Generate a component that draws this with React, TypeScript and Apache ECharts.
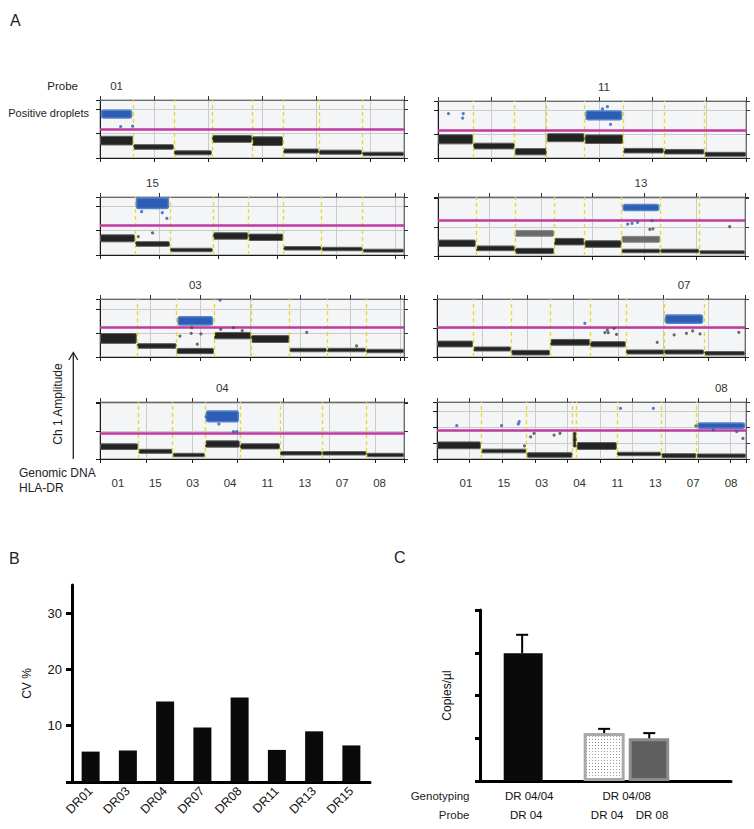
import React, { useEffect, useRef } from 'react';
import * as echarts from 'echarts';

// ---------- Panel A data (x and y in % of each plot's range) ----------
const probeNames = ['01', '11', '15', '13', '03', '07', '04', '08'];
const hlaLabels = ['01', '15', '03', '04', '11', '13', '07', '08'];
const wellEdges = [
  [0, 10.9, 24.3, 36.8, 50, 60.2, 72, 86.2, 100],
  [0, 11.4, 24.9, 35.3, 47.6, 60.1, 73.3, 86.5, 100],
  [0, 11.5, 23, 37.1, 48.8, 60.3, 72.9, 86.4, 100],
  [0, 12.3, 25, 37.8, 47.7, 59.8, 72.4, 85.1, 100],
  [0, 12.1, 25.2, 37.5, 49.6, 62.3, 74.6, 87.5, 100],
  [0, 11.7, 24.1, 36.7, 49.7, 61.3, 73.7, 86.7, 100],
  [0, 12.6, 23.9, 34.5, 46, 59.2, 73.1, 87.7, 100],
  [0, 14.2, 29.0, 43.9, 45.2, 58.2, 72.5, 84.0, 100],
];
const negativeLevels = [
  [30, 19, 9, 33, 29, 12, 10, 7],
  [32.8, 21, 11, 35.6, 33, 12.8, 11, 6.5],
  [28.7, 19, 8.6, 32.8, 30.5, 11.5, 10.3, 7.5],
  [21.5, 13, 8.5, 24.3, 20.3, 8.5, 8.5, 6.3],
  [32, 19, 10.3, 36.8, 31, 12, 12, 10.3],
  [22.4, 13.8, 7.5, 25.3, 22, 8.6, 8.6, 6.3],
  [21.6, 13.5, 7, 26.3, 22.2, 10, 10, 7],
  [24, 14, 7, 34, 22.8, 8.8, 5.8, 5.8],
];
const negativeSpreads = [
  [15, 8, 7, 12, 15, 7, 7, 6],
  [16, 10, 11, 14, 15, 8, 8, 7],
  [12, 8, 6, 11, 11, 6, 6, 5],
  [11, 8, 9, 11, 11, 6, 6, 5],
  [17, 8, 9, 11, 12, 6, 6, 6],
  [10, 7, 8, 10, 9, 7, 7, 6],
  [10, 7, 6, 11, 9, 6, 6, 6],
  [12, 6.5, 8, 26, 12, 6, 7, 6],
];
// [well index, level, spread]
const secondaryBands = [[], [], [], [[2, 38.4, 10], [5, 28.3, 10]], [], [], [], []];
const positiveWell = [0, 4, 1, 5, 2, 6, 3, 7];
const positiveLow = [69, 67, 80, 77, 55, 58, 65.5, 54];
const positiveHigh = [84, 84, 100, 89, 71, 74, 86, 65];
const thresholds = [50, 49, 51.7, 61, 51.7, 51.7, 45.6, 50.4];
const yTickSteps = [42, 42, 42, 49, 41.4, 50, 49, 28];
const xTickSteps = [17.8, 17.4, 19.4, 16.8, 16.45, 14.7, 15.1, 10.55];
const positiveOutliers = [
  [[6.8, 54], [10.7, 55]],
  [[3.4, 78], [8.2, 78], [8, 70], [55, 90], [53.4, 86], [56, 59]],
  [[13.7, 74.6], [20.5, 73], [22, 63]],
  [[63.2, 55.4], [65, 57], [69.7, 60], [61.8, 54]],
  [[39.5, 98]],
  [[48, 58]],
  [[39.1, 61.4], [43.9, 48], [45, 48], [34.9, 74]],
  [[6.4, 58.4], [20.9, 58.4], [26.3, 61.4], [26.6, 65.5], [59.4, 89], [70, 89], [89.4, 50.9], [97, 48]],
];
const negativeOutliers = [
  [],
  [],
  [[17.3, 38], [12.6, 31.6]],
  [[69, 45], [95, 49.7], [70, 46]],
  [[26.3, 36], [30, 40.8], [30.2, 50.5], [32, 22], [33.2, 39.7], [68, 42.5], [43.9, 50.5], [46.8, 45.3], [39.7, 47.7], [84.4, 19]],
  [[55.3, 46.5], [54.5, 42], [55.6, 42], [58.3, 39], [57.5, 49.5], [71.5, 25.3], [77, 38], [81, 40.8], [85.4, 40], [83, 45], [98, 42.5]],
  [],
  [[31.4, 45], [30.3, 39], [37.9, 42], [39.8, 45], [28.3, 23], [99, 36], [83.8, 58]],
];

// ---------- Panel B data ----------
const cvCategories = ['DR01', 'DR03', 'DR04', 'DR07', 'DR08', 'DR11', 'DR13', 'DR15'];
const cvValues = [5.4, 5.6, 14.3, 9.7, 15.0, 5.7, 9.0, 6.5];
const cvTicks = [0, 10, 20, 30];

// ---------- Panel C data ----------
const genotypes = ['DR 04/04', 'DR 04/08'];
const probeDR04 = [2.99, 1.12];
const probeDR04Err = [0.43, 0.1];
const probeDR08 = [null, 1.0];
const probeDR08Err = [null, 0.12];

const FONT = "'Liberation Sans', Arial, sans-serif";

// layout of the eight droplet plots: [left, top, width, height]
const PLOT_BOXES = [
  [100, 100, 304, 58], [438, 101, 308, 57],
  [100, 197, 304, 58], [438, 197, 307, 59],
  [100, 299, 304, 58], [437, 299, 308, 58],
  [100, 402, 304, 57], [437, 402, 309, 57],
];

const BAR_W = 41;
const BAR_GAP = 0.1;
const SLOT_OFFSET = (BAR_W + BAR_W * BAR_GAP) / 2;

function buildOption() {
  const grids: any[] = [];
  const xAxes: any[] = [];
  const yAxes: any[] = [];
  const series: any[] = [];

  PLOT_BOXES.forEach((b, i) => {
    const gi = grids.length;
    grids.push({
      left: b[0], top: b[1], width: b[2], height: b[3], show: true,
      backgroundColor: '#f4f5f7', borderColor: '#8a8a8a', borderWidth: 1,
    });
    const xi = xAxes.length;
    const yi = yAxes.length;
    const baseAxis = {
      type: 'value', gridIndex: gi, min: 0, max: 100,
      axisLabel: { show: false },
    };
    xAxes.push({
      ...baseAxis, interval: xTickSteps[i], position: 'bottom',
      axisLine: { show: true, onZero: false, lineStyle: { color: '#1a1a1a', width: 1 } },
      axisTick: { show: true, length: 4, lineStyle: { color: '#1a1a1a' } },
      splitLine: { show: true, lineStyle: { color: '#cbcbcb', width: 1 } },
    });
    xAxes.push({
      ...baseAxis, interval: xTickSteps[i], position: 'top',
      axisLine: { show: true, onZero: false, lineStyle: { color: '#6a6a6a', width: 1 } },
      axisTick: { show: true, length: 4, lineStyle: { color: '#333' } },
      splitLine: { show: false },
    });
    yAxes.push({
      ...baseAxis, interval: yTickSteps[i], position: 'left',
      axisLine: { show: true, onZero: false, lineStyle: { color: '#1a1a1a', width: 1 } },
      axisTick: { show: true, length: 4, lineStyle: { color: '#1a1a1a' } },
      splitLine: { show: true, lineStyle: { color: '#cbcbcb', width: 1 } },
    });
    yAxes.push({
      ...baseAxis, interval: yTickSteps[i], position: 'right',
      axisLine: { show: true, onZero: false, lineStyle: { color: '#6a6a6a', width: 1 } },
      axisTick: { show: true, length: 4, lineStyle: { color: '#333' } },
      splitLine: { show: false },
    });

    const e = wellEdges[i];
    const bandData: number[][] = [];
    for (let k = 0; k < 8; k++) {
      const lv = negativeLevels[i][k];
      const sp = negativeSpreads[i][k];
      bandData.push([e[k], e[k + 1], lv - sp / 2, lv + sp / 2, 0]);
    }
    (secondaryBands[i] as number[][]).forEach(([w, lv, sp]) => {
      bandData.push([e[w], e[w + 1], lv - sp / 2, lv + sp / 2, 1]);
    });

    // yellow well boundaries
    series.push({
      type: 'line', xAxisIndex: xi, yAxisIndex: yi, data: [], z: 2, silent: true,
      markLine: {
        silent: true, symbol: ['none', 'none'], label: { show: false },
        lineStyle: { color: '#e6da2e', type: [4, 3], width: 1.3 },
        data: e.slice(1, -1).map((v) => ({ xAxis: v })),
      },
    });
    // negative droplet bands
    series.push({
      type: 'custom', xAxisIndex: xi, yAxisIndex: yi, z: 3, silent: true,
      data: bandData, encode: { x: [0, 1], y: [2, 3] },
      renderItem: (params: any, api: any) => {
        const p0 = api.coord([api.value(0), api.value(3)]);
        const p1 = api.coord([api.value(1), api.value(2)]);
        const kind = api.value(4);
        return {
          type: 'rect',
          shape: { x: p0[0] + 0.5, y: p0[1], width: p1[0] - p0[0] - 1, height: p1[1] - p0[1], r: 1 },
          style: kind === 0
            ? { fill: '#232323', stroke: '#5d5d5d', lineWidth: 1 }
            : { fill: '#6a6a6a', stroke: '#8a8a8a', lineWidth: 1 },
        };
      },
    });
    // threshold
    series.push({
      type: 'line', xAxisIndex: xi, yAxisIndex: yi, data: [], z: 4, silent: true,
      markLine: {
        silent: true, symbol: ['none', 'none'], label: { show: false },
        lineStyle: { color: '#c13a9e', type: 'solid', width: 2.5 },
        data: [{ yAxis: thresholds[i] }],
      },
    });
    // positive cluster + probe label
    const pw = positiveWell[i];
    const name = probeNames[i];
    series.push({
      type: 'custom', xAxisIndex: xi, yAxisIndex: yi, z: 5, clip: false, silent: true,
      data: [[e[pw], e[pw + 1], positiveLow[i], positiveHigh[i]]],
      encode: { x: [0, 1], y: [2, 3] },
      renderItem: (params: any, api: any) => {
        const p0 = api.coord([api.value(0), api.value(3)]);
        const p1 = api.coord([api.value(1), api.value(2)]);
        const top = api.coord([0, 100])[1];
        return {
          type: 'group',
          children: [
            {
              type: 'rect',
              shape: { x: p0[0] + 1.5, y: p0[1] + 1, width: p1[0] - p0[0] - 3, height: p1[1] - p0[1] - 1, r: 2 },
              style: { fill: '#2d5db5', stroke: '#5582cc', lineWidth: 1.5 },
            },
            {
              type: 'text', x: (p0[0] + p1[0]) / 2, y: top - 14,
              style: { text: name, fontSize: 11.5, fontFamily: FONT, fill: '#333', align: 'center', verticalAlign: 'middle' },
            },
          ],
        };
      },
    });
    series.push({
      type: 'scatter', xAxisIndex: xi, yAxisIndex: yi, z: 6, silent: true,
      symbolSize: 3.2, data: positiveOutliers[i], itemStyle: { color: '#2d5db5' },
    });
    series.push({
      type: 'scatter', xAxisIndex: xi, yAxisIndex: yi, z: 6, silent: true,
      symbolSize: 3.2, data: negativeOutliers[i], itemStyle: { color: '#4a4a4a' },
    });
  });

  // HLA-DR labels under the bottom plots
  const labelGrids = [[99.3, 299], [447, 303]];
  labelGrids.forEach(([left, width]) => {
    const gi = grids.length;
    grids.push({ left, top: 470, width, height: 1, show: false });
    xAxes.push({
      type: 'category', gridIndex: gi, data: hlaLabels,
      axisLine: { show: false }, axisTick: { show: false },
      axisLabel: { show: true, interval: 0, fontSize: 11.5, color: '#333', fontFamily: FONT, margin: 6 },
      splitLine: { show: false },
    });
    yAxes.push({ type: 'value', gridIndex: gi, show: false });
  });

  // Panel B
  const gB = grids.length;
  grids.push({ left: 72, top: 585, width: 298, height: 197, show: false });
  const xB = xAxes.length;
  xAxes.push({
    type: 'category', gridIndex: gB, data: cvCategories,
    axisLine: { show: true, lineStyle: { color: '#000', width: 3 } },
    axisTick: { show: false },
    axisLabel: { interval: 0, rotate: 45, fontSize: 12.5, color: '#111', fontFamily: FONT, margin: 7 },
  });
  const yB = yAxes.length;
  yAxes.push({
    type: 'value', gridIndex: gB, min: 0, max: 35, interval: 10,
    axisLine: { show: true, lineStyle: { color: '#000', width: 3 } },
    axisTick: { show: true, length: 6, customValues: cvTicks, lineStyle: { color: '#000', width: 3 } },
    axisLabel: {
      fontSize: 13, color: '#111', fontFamily: FONT, margin: 10,
      customValues: cvTicks.slice(1),
      formatter: (v: number) => (v === 0 || v === 35 ? '' : String(v)),
    },
    splitLine: { show: false },
    name: 'CV %', nameLocation: 'middle', nameGap: 39,
    nameTextStyle: { fontSize: 12, color: '#111', fontFamily: FONT },
  });
  series.push({
    type: 'bar', xAxisIndex: xB, yAxisIndex: yB, data: cvValues, barWidth: 18,
    itemStyle: { color: '#0a0a0a' }, silent: true,
  });

  // Panel C frame
  const gCf = grids.length;
  grids.push({ left: 480, top: 610, width: 251, height: 171, show: false });
  xAxes.push({
    type: 'value', gridIndex: gCf, min: 0, max: 1,
    axisLine: { show: true, onZero: false, lineStyle: { color: '#000', width: 3 } },
    axisTick: { show: false }, axisLabel: { show: false }, splitLine: { show: false },
  });
  yAxes.push({
    type: 'value', gridIndex: gCf, min: 0, max: 4, interval: 1,
    axisLine: { show: true, lineStyle: { color: '#000', width: 3 } },
    axisTick: { show: true, length: 5, lineStyle: { color: '#000', width: 3 } },
    axisLabel: { show: false }, splitLine: { show: false },
    name: 'Copies/µl', nameLocation: 'middle', nameGap: 27,
    nameTextStyle: { fontSize: 12, color: '#111', fontFamily: FONT },
  });

  // Panel C bars
  const gC = grids.length;
  grids.push({ left: 503.7, top: 610, width: 164, height: 171, show: false });
  const xC = xAxes.length;
  xAxes.push({
    type: 'category', gridIndex: gC, data: genotypes,
    axisLine: { show: false }, axisTick: { show: false },
    axisLabel: {
      interval: 0, hideOverlap: false,
      fontSize: 11.5, color: '#111', fontFamily: FONT, margin: 9,
      formatter: (v: string, idx: number) => (idx === 0 ? `{s|${v}}` : v),
      rich: { s: { fontSize: 11.5, color: '#111', fontFamily: FONT, padding: [0, 31, 0, 0] } },
    },
  });
  const yC = yAxes.length;
  yAxes.push({ type: 'value', gridIndex: gC, min: 0, max: 4, show: false });

  const cvs = document.createElement('canvas');
  cvs.width = 3; cvs.height = 3;
  const ctx = cvs.getContext('2d')!;
  ctx.fillStyle = '#ffffff'; ctx.fillRect(0, 0, 3, 3);
  ctx.fillStyle = '#9c9c9c'; ctx.fillRect(1, 1, 1, 1);
  const dotPattern = { image: cvs.toDataURL(), repeat: 'repeat' };

  const probeLabel = (txt: string) => ({
    show: true, position: 'bottom', distance: 5, offset: [3, 23],
    formatter: () => txt, fontSize: 11.5, color: '#111', fontFamily: FONT,
  });
  series.push({
    type: 'bar', name: 'DR 04', xAxisIndex: xC, yAxisIndex: yC, barWidth: BAR_W, barGap: `${BAR_GAP * 100}%`,
    silent: true, label: probeLabel('DR 04'),
    data: [
      { value: probeDR04[0], itemStyle: { color: '#0a0a0a' } },
      { value: probeDR04[1], itemStyle: { color: dotPattern, borderColor: '#a9a9a9', borderWidth: 3 } },
    ],
  });
  series.push({
    type: 'bar', name: 'DR 08', xAxisIndex: xC, yAxisIndex: yC, barWidth: BAR_W, barGap: `${BAR_GAP * 100}%`,
    silent: true, label: probeLabel('DR 08'),
    itemStyle: { color: '#5f5f5f', borderColor: '#8c8c8c', borderWidth: 3 },
    data: probeDR08.map((v) => (v == null ? '-' : v)),
  });
  const errData: number[][] = [];
  probeDR04.forEach((v, k) => errData.push([k, v, probeDR04Err[k] as number, 0]));
  probeDR08.forEach((v, k) => { if (v != null) errData.push([k, v, probeDR08Err[k] as number, 1]); });
  series.push({
    type: 'custom', xAxisIndex: xC, yAxisIndex: yC, z: 5, silent: true, clip: false,
    data: errData, encode: { x: 0, y: 1 },
    renderItem: (params: any, api: any) => {
      const cat = api.value(0);
      const v = api.value(1);
      const err = api.value(2);
      const slot = api.value(3);
      const base = api.coord([cat, v]);
      const tp = api.coord([cat, v + err]);
      const x = base[0] + (slot === 0 ? -1 : 1) * SLOT_OFFSET;
      const st = { stroke: '#000', lineWidth: 2 };
      return {
        type: 'group',
        children: [
          { type: 'line', shape: { x1: x, y1: base[1], x2: x, y2: tp[1] }, style: st },
          { type: 'line', shape: { x1: x - 6, y1: tp[1], x2: x + 6, y2: tp[1] }, style: st },
        ],
      };
    },
  });

  const txt = (text: string, x: number, y: number, size: number, align = 'left', extra: any = {}) => ({
    type: 'text', x, y, silent: true, ...extra,
    style: { text, fontSize: size, fontFamily: FONT, fill: '#222', align, verticalAlign: 'middle' },
  });

  const graphic = [
    txt('A', 10, 20, 16),
    txt('Probe', 78, 86, 11.5, 'right'),
    txt('Positive droplets', 89, 113, 11, 'right'),
    txt('Ch 1 Amplitude', 58, 404, 12, 'center', { rotation: Math.PI / 2 }),
    { type: 'line', silent: true, shape: { x1: 73.3, y1: 459, x2: 73.3, y2: 353 }, style: { stroke: '#222', lineWidth: 1.3 } },
    { type: 'polyline', silent: true, shape: { points: [[68.8, 360], [73.3, 352.5], [77.8, 360]] }, style: { stroke: '#222', lineWidth: 1.3, fill: null } },
    txt('Genomic DNA', 19, 473, 12),
    txt('HLA-DR', 19, 487.5, 12),
    txt('B', 9, 558, 16),
    txt('C', 394, 557, 16),
    txt('Genotyping', 469.5, 795.7, 11.5, 'right'),
    txt('Probe', 469.5, 815, 11.5, 'right'),
  ];

  return {
    animation: false,
    backgroundColor: '#ffffff',
    grid: grids,
    xAxis: xAxes,
    yAxis: yAxes,
    series,
    graphic,
  };
}

export default function App() {
  const ref = useRef<HTMLDivElement>(null);
  useEffect(() => {
    document.body.style.margin = '0';
    const chart = echarts.init(ref.current!, null, { renderer: 'svg' });
    chart.setOption(buildOption() as any);
    return () => chart.dispose();
  }, []);
  return <div ref={ref} style={{ width: 754, height: 829 }} />;
}
